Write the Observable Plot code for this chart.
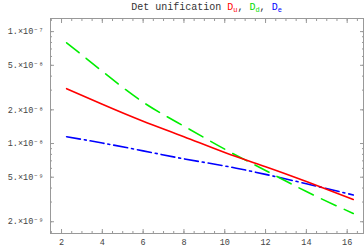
<!DOCTYPE html>
<html><head><meta charset="utf-8">
<script src="https://cdn.jsdelivr.net/npm/d3@7"></script>
<script src="https://cdn.jsdelivr.net/npm/@observablehq/plot@0.6"></script>
<style>
body{margin:0;background:#fff;}
#wrap{position:relative;width:364px;height:250px;}
#title{position:absolute;left:50px;top:1px;width:313px;text-align:center;font-family:"Liberation Mono",monospace;font-size:10px;line-height:14px;color:#333;white-space:nowrap;}
#title sub{font-size:7px;vertical-align:-2px;line-height:0;}
</style></head><body>
<div id="wrap"><div id="title">Det unification <span style="color:#ff0000">D<sub>u</sub></span>, <span style="color:#00dd00">D<sub>d</sub></span>, <span style="color:#0000ff">D<sub>e</sub></span></div></div>
<script>
// x positions (mass scale parameter) and series values
const xs = [2.25, 4, 6, 8, 10, 12, 14, 16.3];
const Du = [3.09e-8, 2.24e-8, 1.58e-8, 1.15e-8, 8.3e-9, 6.2e-9, 4.57e-9, 3.16e-9];
const Dd = [7.94e-8, 4.42e-8, 2.34e-8, 1.43e-8, 8.9e-9, 5.75e-9, 3.72e-9, 2.37e-9];
const De = [1.15e-8, 1.01e-8, 8.6e-9, 7.3e-9, 6.3e-9, 5.3e-9, 4.37e-9, 3.47e-9];

const xTicks = [2, 4, 6, 8, 10, 12, 14, 16];
const yTicks = [2e-9, 5e-9, 1e-8, 2e-8, 5e-8, 1e-7];
const yTickLabels = ["2.×10⁻⁹", "5.×10⁻⁹", "1.×10⁻⁸", "2.×10⁻⁸", "5.×10⁻⁸", "1.×10⁻⁷"];
const xMinor = d3.range(1.5, 16.6, 0.5);
const yMinor = [2e-9,3e-9,4e-9,5e-9,6e-9,7e-9,8e-9,9e-9,1e-8,2e-8,3e-8,4e-8,5e-8,6e-8,7e-8,8e-8,9e-8,1e-7];

const rows = [];
xs.forEach((x, i) => {
  rows.push({x, y: Du[i], s: "Du"});
  rows.push({x, y: Dd[i], s: "Dd"});
  rows.push({x, y: De[i], s: "De"});
});

const blank = () => "";
const gray = "#999";
const chart = Plot.plot({
  width: 364, height: 250,
  marginLeft: 50, marginRight: 1, marginTop: 18, marginBottom: 17,
  x: {domain: [1.46, 16.8]},
  y: {type: "log", domain: [1.57e-9, 1.31e-7]},
  style: {fontFamily: "Liberation Mono, monospace", fontSize: "8.5px", color: "#444", background: "white", overflow: "visible"},
  marks: [
    Plot.frame({stroke: gray, strokeWidth: 1}),
    // minor ticks all sides
    Plot.axisX({anchor: "bottom", ticks: xMinor, tickSize: -2, tickFormat: blank, label: null, stroke: gray}),
    Plot.axisX({anchor: "top", ticks: xMinor, tickSize: -2, tickFormat: blank, label: null, stroke: gray}),
    Plot.axisY({anchor: "left", ticks: yMinor, tickSize: -2, tickFormat: blank, label: null, stroke: gray}),
    Plot.axisY({anchor: "right", ticks: yMinor, tickSize: -2, tickFormat: blank, label: null, stroke: gray}),
    // major ticks
    Plot.axisX({anchor: "bottom", ticks: xTicks, tickSize: -4, tickFormat: blank, label: null, stroke: gray}),
    Plot.axisX({anchor: "top", ticks: xTicks, tickSize: -4, tickFormat: blank, label: null, stroke: gray}),
    Plot.axisY({anchor: "left", ticks: yTicks, tickSize: -4, tickFormat: blank, label: null, stroke: gray}),
    Plot.axisY({anchor: "right", ticks: yTicks, tickSize: -4, tickFormat: blank, label: null, stroke: gray}),
    // labels
    Plot.axisX({anchor: "bottom", ticks: xTicks, tickSize: 0, tickPadding: 5, label: null}),
    Plot.axisY({anchor: "left", ticks: yTicks, tickSize: 0, tickPadding: 7, label: null,
      tickFormat: d => yTickLabels[yTicks.indexOf(d)]}),
    Plot.line(rows.filter(d => d.s === "De"), {x: "x", y: "y", stroke: "#0000ff", strokeWidth: 1.6, curve: "natural", strokeDasharray: "14,4,2,4"}),
    Plot.line(rows.filter(d => d.s === "Dd"), {x: "x", y: "y", stroke: "#00ee00", strokeWidth: 1.6, curve: "natural", strokeDasharray: "16,9"}),
    Plot.line(rows.filter(d => d.s === "Du"), {x: "x", y: "y", stroke: "#ff0000", strokeWidth: 1.6, curve: "natural"})
  ]
});
document.getElementById("wrap").prepend(chart);
</script>
</body></html>
